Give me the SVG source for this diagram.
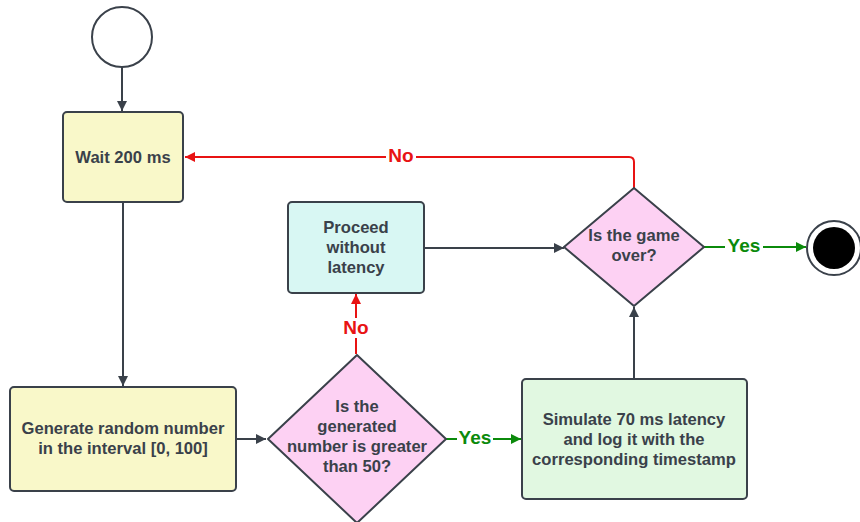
<svg xmlns="http://www.w3.org/2000/svg" width="860" height="522" viewBox="0 0 860 522">
  <defs>
    <marker id="arrDark" viewBox="0 0 10 10" refX="10" refY="5" markerWidth="10" markerHeight="10" markerUnits="userSpaceOnUse" orient="auto">
      <path d="M0,0 L10,5 L0,10 z" fill="#3a414a"/>
    </marker>
    <marker id="arrRed" viewBox="0 0 10 10" refX="10" refY="5" markerWidth="10" markerHeight="10" markerUnits="userSpaceOnUse" orient="auto">
      <path d="M0,0 L10,5 L0,10 z" fill="#e81313"/>
    </marker>
    <marker id="arrGreen" viewBox="0 0 10 10" refX="10" refY="5" markerWidth="10" markerHeight="10" markerUnits="userSpaceOnUse" orient="auto">
      <path d="M0,0 L10,5 L0,10 z" fill="#0b8a0b"/>
    </marker>
  </defs>
  <style>
    .shape { stroke: #3a414a; stroke-width: 2; }
    .t { font-family: "Liberation Sans", Arial, sans-serif; font-weight: bold; font-size: 16.6px; fill: #3a414a; text-anchor: middle; }
    .lbl { font-family: "Liberation Sans", Arial, sans-serif; font-weight: bold; font-size: 19px; text-anchor: middle; }
    .c { fill: none; stroke-width: 2; }
    .dark { stroke: #3a414a; }
    .red { stroke: #e81313; }
    .green { stroke: #0b8a0b; }
  </style>
  <rect width="860" height="522" fill="#ffffff"/>

  <g id="connectors">
    <path class="c dark" d="M122,67 L122,111" marker-end="url(#arrDark)"/>
    <path class="c dark" d="M123,202 L123,386" marker-end="url(#arrDark)"/>
    <path class="c dark" d="M236,439 L266,439" marker-end="url(#arrDark)"/>
    <path class="c dark" d="M424,248 L564,248" marker-end="url(#arrDark)"/>
    <path class="c dark" d="M634,379 L634,307" marker-end="url(#arrDark)"/>
    <path class="c red" d="M634,188 L634,162 Q634,157 629,157 L185,157" marker-end="url(#arrRed)"/>
    <path class="c red" d="M356,354 L356,294" marker-end="url(#arrRed)"/>
    <path class="c green" d="M446,439 L521,439" marker-end="url(#arrGreen)"/>
    <path class="c green" d="M704,247 L806,247" marker-end="url(#arrGreen)"/>
    <rect x="386" y="146" width="30" height="20" fill="#ffffff"/>
    <text class="lbl" x="401" y="162" fill="#e81313">No</text>
    <rect x="342" y="318" width="28" height="20" fill="#ffffff"/>
    <text class="lbl" x="356" y="334" fill="#e81313">No</text>
    <rect x="457" y="428" width="36" height="20" fill="#ffffff"/>
    <text class="lbl" x="475" y="444" fill="#0b8a0b">Yes</text>
    <rect x="725" y="236" width="38" height="20" fill="#ffffff"/>
    <text class="lbl" x="744" y="252" fill="#0b8a0b">Yes</text>
  </g>

  <g id="start">
    <circle class="shape" cx="122" cy="37" r="30" fill="#ffffff"/>
  </g>

  <g id="wait">
    <rect class="shape" x="63" y="112" width="120" height="90" rx="4" fill="#f9f8c9"/>
    <text class="t" x="123" y="163">Wait 200 ms</text>
  </g>

  <g id="generate">
    <rect class="shape" x="10" y="387" width="226" height="104" rx="4" fill="#f9f8c9"/>
    <text class="t" x="123" y="434">Generate random number</text>
    <text class="t" x="123" y="454">in the interval [0, 100]</text>
  </g>

  <g id="check-number">
    <path class="shape" d="M357,355 L446,439 L357,523 L268,439 Z" fill="#fdd1f3" stroke-linejoin="round"/>
    <text class="t" x="357" y="412">Is the</text>
    <text class="t" x="357" y="432">generated</text>
    <text class="t" x="357" y="452">number is greater</text>
    <text class="t" x="357" y="472">than 50?</text>
  </g>

  <g id="proceed">
    <rect class="shape" x="288" y="202" width="136" height="91" rx="4" fill="#d8f7f3"/>
    <text class="t" x="356" y="233">Proceed</text>
    <text class="t" x="356" y="253">without</text>
    <text class="t" x="356" y="273">latency</text>
  </g>

  <g id="simulate">
    <rect class="shape" x="522" y="379" width="225" height="120" rx="4" fill="#e1f8e1"/>
    <text class="t" x="634" y="425">Simulate 70 ms latency</text>
    <text class="t" x="634" y="445">and log it with the</text>
    <text class="t" x="634" y="465">corresponding timestamp</text>
  </g>

  <g id="game-over">
    <path class="shape" d="M634,188 L704,247 L634,306 L564,247 Z" fill="#fdd1f3" stroke-linejoin="round"/>
    <text class="t" x="634" y="241">Is the game</text>
    <text class="t" x="634" y="261">over?</text>
  </g>

  <g id="end">
    <circle class="shape" cx="834" cy="248" r="27" fill="#ffffff"/>
    <circle cx="834" cy="248" r="21" fill="#000000"/>
  </g>
</svg>
